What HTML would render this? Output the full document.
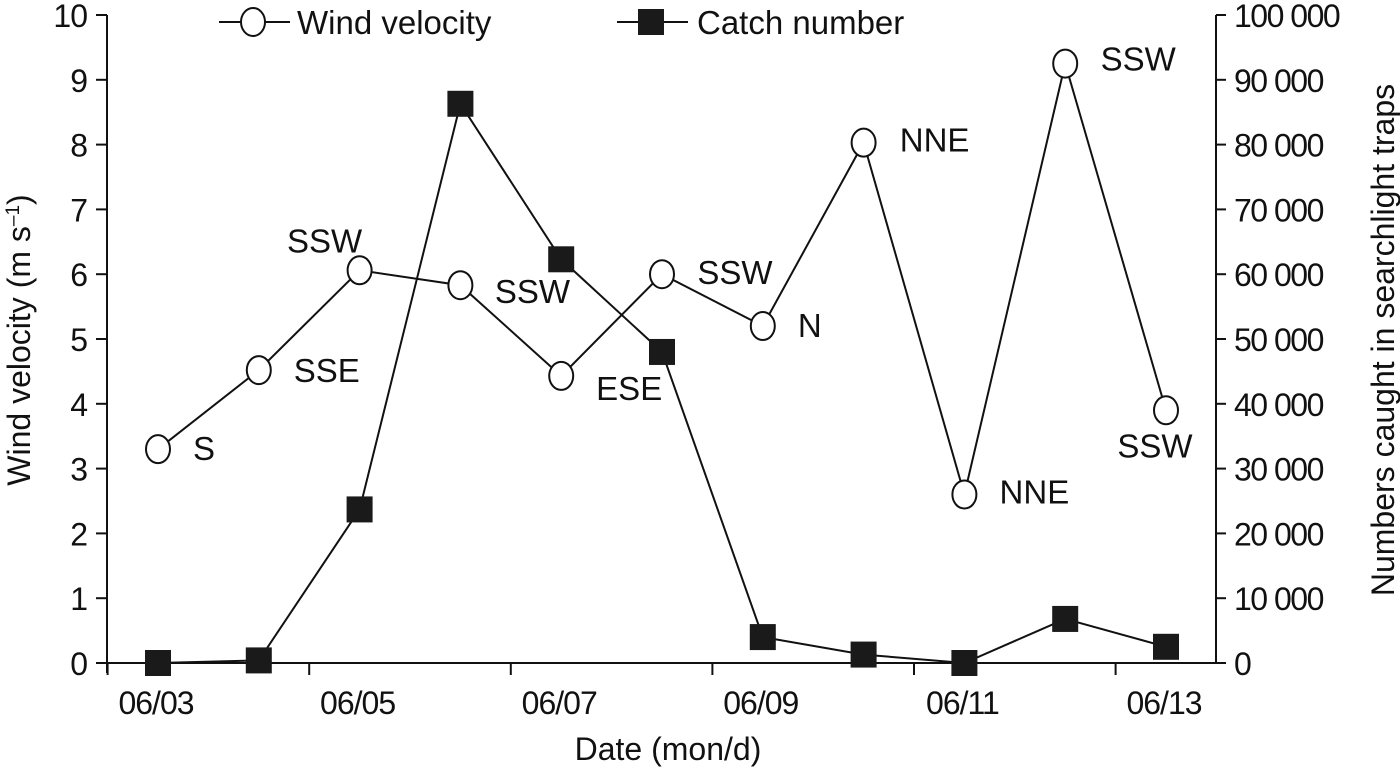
<!DOCTYPE html>
<html><head><meta charset="utf-8"><style>
html,body{margin:0;padding:0;background:#fff;}
svg{display:block;font-family:"Liberation Sans",Arial,sans-serif;}
</style></head><body>
<svg id="chart" width="1400" height="775" viewBox="0 0 1400 775" xmlns="http://www.w3.org/2000/svg">
<g id="axes"></g>
<g id="series"></g>
<g>
  <g>
    <line x1="219" y1="22" x2="290" y2="22" stroke="#111" stroke-width="2"/>
    <ellipse cx="253" cy="22" rx="12" ry="14" fill="#fff" stroke="#111" stroke-width="2"/>
    <text x="297" y="34" font-size="33" fill="#111">Wind velocity</text>
  </g>
  <g>
    <line x1="617" y1="22" x2="688" y2="22" stroke="#111" stroke-width="2"/>
    <rect x="638" y="9" width="26" height="26" fill="#1a1a1a"/>
    <text x="697" y="34" font-size="33" fill="#111">Catch number</text>
  </g>
</g>
<text x="668" y="760" font-size="32" text-anchor="middle" fill="#111">Date (mon/d)</text>
<text transform="translate(30,340) rotate(-90)" font-size="32" text-anchor="middle" fill="#111">Wind velocity (m s<tspan dy="-11" font-size="19">–1</tspan><tspan dy="11">)</tspan></text>
<text transform="translate(1394,340) rotate(-90)" font-size="32" text-anchor="middle" fill="#111">Numbers caught in searchlight traps</text>
</svg>
<script>
const days = [3,4,5,6,7,8,9,10,11,12,13];
const windValues = [3.3,4.52,6.06,5.83,4.43,6.0,5.2,8.03,2.6,9.25,3.9];
const catchValues = [0,400,23700,86300,62300,48000,4000,1300,0,6800,2500];
const windDirs = ["S","SSE","SSW","SSW","ESE","SSW","N","NNE","NNE","SSW","SSW"];
const leftTicks = [0,1,2,3,4,5,6,7,8,9,10];
const rightTicks = [0,10000,20000,30000,40000,50000,60000,70000,80000,90000,100000];
const rightTickLabels = ["0","10 000","20 000","30 000","40 000","50 000","60 000","70 000","80 000","90 000","100 000"];
const xTickLabels = ["06/03","06/05","06/07","06/09","06/11","06/13"];
const xLabelDays = [3,5,7,9,11,13];

const NS="http://www.w3.org/2000/svg";
const X0=107, X1=1216, Y0=663, Y1=15;
function xs(d){return 158+100.8*(d-3);}
function yl(v){return Y0-(v/10)*(Y0-Y1);}
function yr(v){return Y0-(v/100000)*(Y0-Y1);}
function mk(tag,attrs,parent){const e=document.createElementNS(NS,tag);for(const k in attrs)e.setAttribute(k,attrs[k]);parent.appendChild(e);return e;}
const ax=document.getElementById('axes');
const se=document.getElementById('series');
let e;
e=mk('line',{x1:X0,y1:Y1,x2:X0,y2:Y0+10,stroke:'#111','stroke-width':2},ax);


e=mk('line',{x1:X1,y1:Y1,x2:X1,y2:Y0,stroke:'#111','stroke-width':2},ax);


e=mk('line',{x1:X0-10,y1:Y0,x2:X1+8,y2:Y0,stroke:'#111','stroke-width':2},ax);


leftTicks.forEach(v=>{
  mk('line',{x1:X0-11,y1:yl(v),x2:X0,y2:yl(v),stroke:'#111','stroke-width':2},ax);
  e=mk('text',{x:87,y:yl(v)+12,'font-size':32,'letter-spacing':-1,'text-anchor':'end',fill:'#111'},ax);
  e.textContent=v;
  
  
});
rightTicks.forEach((v,i)=>{
  mk('line',{x1:X1,y1:yr(v),x2:X1+10,y2:yr(v),stroke:'#111','stroke-width':2},ax);
  e=mk('text',{x:1234,y:yr(v)+12,'font-size':32,'letter-spacing':-1.5,fill:'#111'},ax);
  e.textContent=rightTickLabels[i];
  
  
});
[2.5,4.5,6.5,8.5,10.5,12.5].forEach(d=>{
  mk('line',{x1:xs(d),y1:Y0,x2:xs(d),y2:Y0+12,stroke:'#111','stroke-width':2},ax);
});
xLabelDays.forEach((d,i)=>{
  e=mk('text',{x:xs(d)-2,y:714,'font-size':32,'letter-spacing':-1,'text-anchor':'middle',fill:'#111'},ax);
  e.textContent=xTickLabels[i];
  
  
});
e=mk('polyline',{points:days.map((d,i)=>xs(d)+','+yr(catchValues[i])).join(' '),fill:'none',stroke:'#111','stroke-width':2},se);


e=mk('polyline',{points:days.map((d,i)=>xs(d)+','+yl(windValues[i])).join(' '),fill:'none',stroke:'#111','stroke-width':2},se);


days.forEach((d,i)=>{
  e=mk('rect',{x:xs(d)-13,y:yr(catchValues[i])-13,width:26,height:26,fill:'#1a1a1a'},se);
  
  
});
days.forEach((d,i)=>{
  e=mk('ellipse',{cx:xs(d),cy:yl(windValues[i]),rx:12,ry:14,fill:'#fff',stroke:'#111','stroke-width':2},se);
  
  
});
const off=[[46,11],[68,12],[-35,-18],[72,18],[68,24],[73,10],[47,11],[71,9],[70,9],[73,7],[-11,47]];
days.forEach((d,i)=>{
  e=mk('text',{x:xs(d)+off[i][0],y:yl(windValues[i])+off[i][1],'font-size':33,'text-anchor':'middle',fill:'#111'},se);
  e.textContent=windDirs[i];
  
  
});
</script>
</body></html>
